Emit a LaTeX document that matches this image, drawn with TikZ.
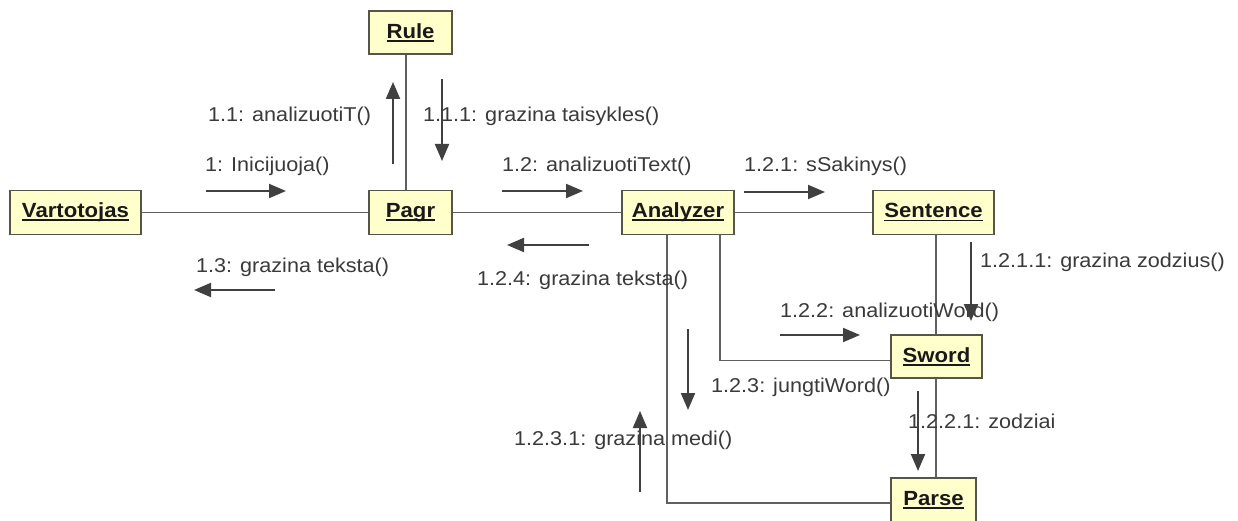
\documentclass[tikz,border=0pt]{standalone}
\usepackage{fontspec}
\setmainfont{Liberation Sans}[FakeStretch=1.08]
\usetikzlibrary{arrows.meta}
\definecolor{objfill}{HTML}{FFFFCC}
\definecolor{objedge}{HTML}{55554A}
\definecolor{linkgray}{HTML}{606060}
\definecolor{msggray}{HTML}{404040}
\definecolor{txtgray}{HTML}{3A3A3A}
% object name with a fixed-offset underline
\newcommand{\objname}[1]{\setbox0\hbox{#1}\rlap{\rule[-3.5pt]{\wd0}{1.8pt}}\box0}
\tikzset{
  obj/.style={draw=objedge, line width=1.6pt, fill=objfill, minimum height=44pt,
    inner sep=0pt, text=black!90, font=\bfseries\fontsize{20.5}{24}\selectfont},
  link/.style={draw=linkgray, line width=1.6pt},
  msg/.style={draw=msggray, line width=2pt, -{Triangle[length=17pt,width=14pt]}},
  lbl/.style={anchor=base west, inner sep=0pt, text=txtgray, font=\fontsize{20}{24}\selectfont}
}
\begin{document}
\begin{tikzpicture}[x=1pt,y=-1pt]
\useasboundingbox (0,0) rectangle (1238,521);
\fill[white] (0,0) rectangle (1238,521);

% objects
\node[obj, minimum width=131pt] (vart) at (75.5,212.5) {\objname{Vartotojas}};
\node[obj, minimum width=83pt, minimum height=43pt] (rule) at (410.5,32.5) {\objname{Rule}};
\node[obj, minimum width=83pt] (pagr) at (410.5,212.5) {\objname{Pagr}};
\node[obj, minimum width=112pt] (anal) at (678,212.5) {\objname{Analyzer}};
\node[obj, minimum width=121pt] (sent) at (933.5,212.5) {\objname{Sentence}};
\node[obj, minimum width=91pt, minimum height=43pt] (sword) at (936.5,356.5) {\objname{Sword}};
\node[obj, minimum width=85pt] (parse) at (933.5,500) {\objname{Parse}};

% links
\begin{scope}[on background layer/.try]
\draw[link] (vart.east) -- (pagr.west);
\draw[link] (pagr.east) -- (anal.west);
\draw[link] (anal.east) -- (sent.west);
\draw[link] ([xshift=-4.5pt]rule.south) -- ([xshift=-4.5pt]pagr.north);
\draw[link] ([xshift=2.5pt]sent.south) -- ([xshift=-0.5pt]sword.north);
\draw[link] ([xshift=-0.5pt]sword.south) -- ([xshift=2.5pt]parse.north);
\draw[link] ([xshift=42pt]anal.south) |- ([yshift=-4pt]sword.west);
\draw[link] ([xshift=-11pt]anal.south) |- ([yshift=-3pt]parse.west);
\end{scope}

% message labels (left end, baseline)
\node[lbl] (t1)    at (205,172)  {1: Inicijuoja()};
\node[lbl] (t11)   at (208,122)  {1.1: analizuotiT()};
\node[lbl] (t111)  at (423,122)  {1.1.1: grazina taisykles()};
\node[lbl] (t13)   at (196,272)  {1.3: grazina teksta()};
\node[lbl] (t12)   at (502,172)  {1.2: analizuotiText()};
\node[lbl] (t121)  at (744,172)  {1.2.1: sSakinys()};
\node[lbl] (t124)  at (477,285)  {1.2.4: grazina teksta()};
\node[lbl] (t1211) at (980,267)  {1.2.1.1: grazina zodzius()};
\node[lbl] (t122)  at (780,317)  {1.2.2: analizuotiWord()};
\node[lbl] (t123)  at (711,392)  {1.2.3: jungtiWord()};
\node[lbl] (t1231) at (514,445)  {1.2.3.1: grazina medi()};
\node[lbl] (t1221) at (908,428)  {1.2.2.1: zodziai};

% message arrow end points
\coordinate (a1s) at (206,191);    \coordinate (a1e) at (286,191);
\coordinate (a11s) at (393,164);   \coordinate (a11e) at (393,82);
\coordinate (a111s) at (442,79);   \coordinate (a111e) at (442,161);
\coordinate (a13s) at (275,290);   \coordinate (a13e) at (194,290);
\coordinate (a12s) at (502,191);   \coordinate (a12e) at (583,191);
\coordinate (a121s) at (744,192);  \coordinate (a121e) at (825,192);
\coordinate (a124s) at (589,245);  \coordinate (a124e) at (507,245);
\coordinate (a1211s) at (971,242); \coordinate (a1211e) at (971,321);
\coordinate (a122s) at (780,335);  \coordinate (a122e) at (860,335);
\coordinate (a123s) at (688,329);  \coordinate (a123e) at (688,410);
\coordinate (a1231s) at (640,492); \coordinate (a1231e) at (640,411);
\coordinate (a1221s) at (918,391); \coordinate (a1221e) at (918,471);

% message arrows
\draw[msg] (a1s) -- (a1e);
\draw[msg] (a11s) -- (a11e);
\draw[msg] (a111s) -- (a111e);
\draw[msg] (a13s) -- (a13e);
\draw[msg] (a12s) -- (a12e);
\draw[msg] (a121s) -- (a121e);
\draw[msg] (a124s) -- (a124e);
\draw[msg] (a1211s) -- (a1211e);
\draw[msg] (a122s) -- (a122e);
\draw[msg] (a123s) -- (a123e);
\draw[msg] (a1231s) -- (a1231e);
\draw[msg] (a1221s) -- (a1221e);
\end{tikzpicture}
\end{document}
